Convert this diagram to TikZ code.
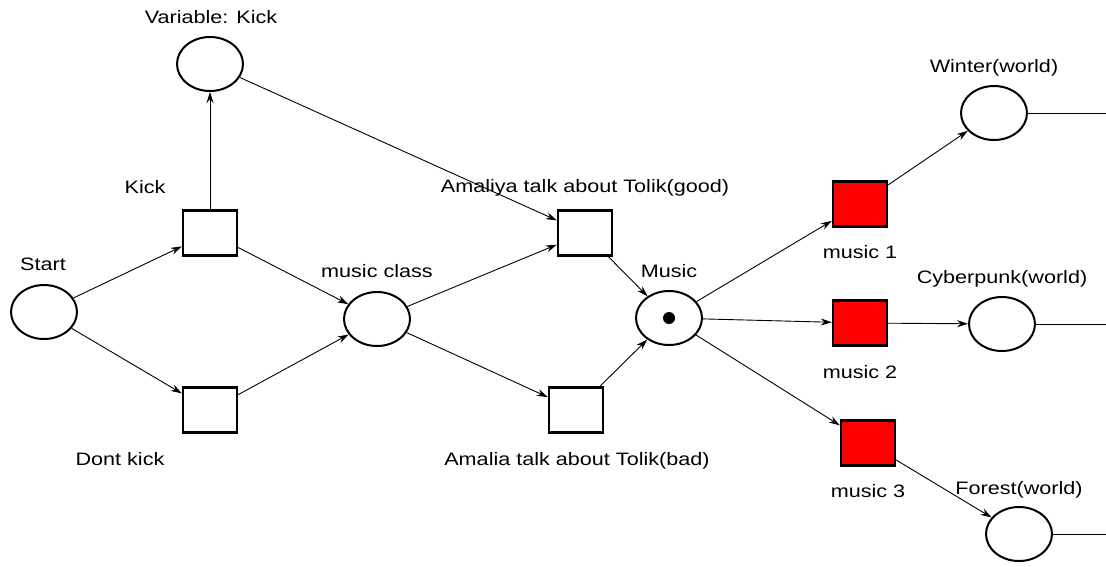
\documentclass[tikz,border=0pt]{standalone}
\usepackage{fontspec}
\setmainfont{Liberation Sans}[FakeStretch=1.2]
\usetikzlibrary{arrows.meta,shapes.geometric}
\definecolor{fire}{HTML}{FF0000}
\begin{document}
\begin{tikzpicture}[x=1pt,y=-1pt,
  place/.style={draw,ellipse,line width=2pt,minimum width=66pt,minimum height=54pt,inner sep=0pt},
  trans/.style={draw,rectangle,line width=2.4pt,minimum width=54pt,minimum height=45pt,inner sep=0pt},
  hot/.style={trans,fill=fire},
  lbl/.style={anchor=base,inner sep=0pt,font=\fontsize{18}{20}\selectfont,text=black},
  arc/.style={line width=0.9pt,-{Stealth[length=11pt,width=7pt]}},
  tail/.style={line width=0.9pt}]
\useasboundingbox (0,0) rectangle (1106,566);

% places
\node[place] (vk) at (210,64) {};
\node[place] (start) at (44,312) {};
\node[place] (mc) at (377,319) {};
\node[place] (music) at (669,318) {};
\node[place] (winter) at (994,113) {};
\node[place] (cyber) at (1002,324) {};
\node[place] (forest) at (1019,534) {};
\fill (music.center) circle (6pt);

% transitions
\node[trans] (kick) at (210,233) {};
\node[trans] (dont) at (210,410) {};
\node[trans] (good) at (585,233) {};
\node[trans] (bad) at (576,410) {};
\node[hot] (m1) at (860,204) {};
\node[hot] (m2) at (860,323) {};
\node[hot] (m3) at (868,443) {};

% labels
\node[lbl] (lvk) at (211,23) {Variable: Kick};
\node[lbl] (lkick) at (145,193) {Kick};
\node[lbl] (lstart) at (43,270) {Start};
\node[lbl] (ldont) at (120,465) {Dont kick};
\node[lbl] (lmc) at (377,277) {music class};
\node[lbl] (lgood) at (585,192) {Amaliya talk about Tolik(good)};
\node[lbl] (lmusic) at (669,277) {Music};
\node[lbl] (lbad) at (577,465) {Amalia talk about Tolik(bad)};
\node[lbl] (lm1) at (860,258) {music 1};
\node[lbl] (lm2) at (860,378) {music 2};
\node[lbl] (lm3) at (868,497) {music 3};
\node[lbl] (lwinter) at (994,72) {Winter(world)};
\node[lbl] (lcyber) at (1002,283) {Cyberpunk(world)};
\node[lbl] (lforest) at (1019,494) {Forest(world)};

% outgoing arcs leaving the frame
\coordinate (ewinter) at (1106,113);
\coordinate (ecyber) at (1106,324);
\coordinate (eforest) at (1106,534);

% arcs
\draw[arc] (start) -- (kick);
\draw[arc] (start) -- (dont);
\draw[arc] (kick) -- (vk);
\draw[arc] (kick) -- (mc);
\draw[arc] (dont) -- (mc);
\draw[arc] (vk) -- (good);
\draw[arc] (mc) -- (good);
\draw[arc] (mc) -- (bad);
\draw[arc] (good) -- (music);
\draw[arc] (bad) -- (music);
\draw[arc] (music) -- (m1);
\draw[arc] (music) -- (m2);
\draw[arc] (music) -- (m3);
\draw[arc] (m1) -- (winter);
\draw[arc] (m2) -- (cyber);
\draw[arc] (m3) -- (forest);
\draw[tail] (winter) -- (ewinter);
\draw[tail] (cyber) -- (ecyber);
\draw[tail] (forest) -- (eforest);
\end{tikzpicture}
\end{document}
